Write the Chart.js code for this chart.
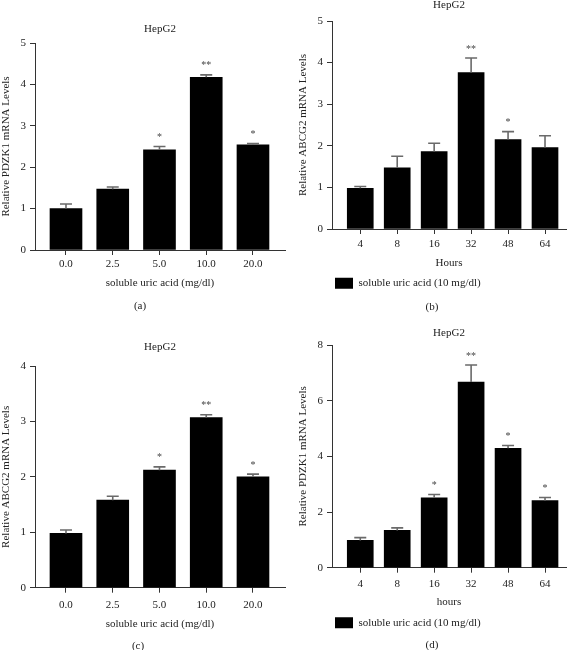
<!DOCTYPE html>
<html><head><meta charset="utf-8">
<script src="https://cdn.jsdelivr.net/npm/chart.js@4.4.1/dist/chart.umd.min.js"></script>
<style>
html,body{margin:0;padding:0;background:#fff;}
#wrap{position:relative;width:573px;height:650px;overflow:hidden;background:#fff;}
canvas{position:absolute;}
.lbl{position:absolute;font:11px 'Liberation Serif',serif;color:#222;transform:translate(-50%,-50%);white-space:nowrap;}
</style></head><body>
<div id="wrap">
<canvas id="ca" width="290" height="320" style="left:0;top:0;width:290px;height:320px"></canvas>
<canvas id="cb" width="288" height="320" style="left:285px;top:0;width:288px;height:320px"></canvas>
<canvas id="cc" width="290" height="330" style="left:0;top:320px;width:290px;height:330px"></canvas>
<canvas id="cd" width="288" height="330" style="left:285px;top:320px;width:288px;height:330px"></canvas>
<div class="lbl" style="left:140px;top:305px">(a)</div>
<div class="lbl" style="left:432px;top:305.5px">(b)</div>
<div class="lbl" style="left:138px;top:645px">(c)</div>
<div class="lbl" style="left:432px;top:644px">(d)</div>
</div>
<script>
// ---- data ----
const concLabels = ['0.0', '2.5', '5.0', '10.0', '20.0'];
const hourLabels = ['4', '8', '16', '32', '48', '64'];

const pdzk1Conc = [1.00, 1.47, 2.42, 4.17, 2.54];
const pdzk1ConcErr = [0.11, 0.05, 0.08, 0.06, 0.03];
const pdzk1ConcStars = ['', '', '*', '**', '*'];

const abcg2Hours = [0.98, 1.47, 1.86, 3.76, 2.15, 1.96];
const abcg2HoursErr = [0.04, 0.28, 0.20, 0.35, 0.19, 0.28];
const abcg2HoursStars = ['', '', '', '**', '*', ''];

const abcg2Conc = [0.98, 1.58, 2.12, 3.07, 2.00];
const abcg2ConcErr = [0.06, 0.07, 0.06, 0.05, 0.05];
const abcg2ConcStars = ['', '', '*', '**', '*'];

const pdzk1Hours = [0.98, 1.34, 2.51, 6.67, 4.29, 2.41];
const pdzk1HoursErr = [0.10, 0.09, 0.12, 0.61, 0.10, 0.11];
const pdzk1HoursStars = ['', '', '*', '**', '*', '*'];

const yTicks5 = [0, 1, 2, 3, 4, 5];
const yTicks4 = [0, 1, 2, 3, 4];
const yTicks8 = [0, 2, 4, 6, 8];

const seriesName = 'soluble uric acid (10 mg/dl)';
// ---------------

const FONT = "'Liberation Serif', 'Times New Roman', serif";
const AXIS = '#333';
const TXT = '#222';

const errorBars = {
  id: 'errorBars',
  afterDatasetsDraw(chart, args, opts) {
    const ctx = chart.ctx;
    const meta = chart.getDatasetMeta(0);
    const ys = chart.scales.y;
    const vals = opts.values, errs = opts.errors, stars = opts.stars;
    ctx.save();
    meta.data.forEach((bar, i) => {
      const top = ys.getPixelForValue(vals[i] + errs[i]);
      const base = bar.y;
      ctx.strokeStyle = '#6a6a6a';
      ctx.lineWidth = 1.6;
      ctx.beginPath();
      ctx.moveTo(bar.x, base);
      ctx.lineTo(bar.x, top);
      ctx.moveTo(bar.x - 6, top);
      ctx.lineTo(bar.x + 6, top);
      ctx.stroke();
      if (stars[i]) {
        ctx.fillStyle = '#444';
        ctx.font = '10px ' + FONT;
        ctx.textAlign = 'center';
        ctx.textBaseline = 'alphabetic';
        ctx.fillText(stars[i], bar.x, top - 6.5);
      }
    });
    ctx.restore();
  }
};

function makeChart(id, p) {
  const data = p.values.map((v, i) => ({x: i, y: v}));
  return new Chart(document.getElementById(id), {
    type: 'bar',
    data: {
      datasets: [{
        label: seriesName,
        data: data,
        backgroundColor: '#000',
        borderWidth: 0,
        barThickness: p.barW
      }]
    },
    options: {
      responsive: false,
      animation: false,
      events: [],
      layout: {padding: p.pad},
      plugins: {
        title: {
          display: true, text: 'HepG2', color: TXT, fullSize: false,
          font: {family: FONT, size: 11, weight: 'normal', lineHeight: 1},
          padding: p.titlePad
        },
        legend: {
          display: !!p.legend, position: 'bottom', align: 'start', fullSize: false,
          labels: {
            color: TXT, boxWidth: 18, boxHeight: 11, padding: 3,
            font: {family: FONT, size: 11}
          }
        },
        tooltip: {enabled: false},
        errorBars: {values: p.values, errors: p.errs, stars: p.stars}
      },
      scales: {
        x: {
          type: 'linear',
          offset: false,
          min: p.xMin, max: p.xMax,
          afterBuildTicks: s => { s.ticks = p.labels.map((_, i) => ({value: i})); },
          afterFit: s => { s.height = p.xH; },
          grid: {display: true, offset: false, drawOnChartArea: false, drawTicks: true, tickLength: 5, color: AXIS, lineWidth: 1},
          border: {display: true, color: AXIS, width: 1},
          ticks: {
            color: TXT, padding: p.xTickPad, autoSkip: false, maxRotation: 0,
            font: {family: FONT, size: 11},
            callback: v => p.labels[v]
          },
          title: {
            display: true, text: p.xTitle, color: TXT,
            font: {family: FONT, size: 11},
            padding: {top: 0, bottom: p.xTitlePadB}
          }
        },
        y: {
          type: 'linear',
          min: p.yTicks[0], max: p.yTicks[p.yTicks.length - 1],
          afterBuildTicks: s => { s.ticks = p.yTicks.map(v => ({value: v})); },
          afterFit: s => { s.width = p.yW; },
          grid: {display: true, drawOnChartArea: false, drawTicks: true, tickLength: 5, color: AXIS, lineWidth: 1},
          border: {display: true, color: AXIS, width: 1},
          ticks: {color: TXT, padding: 4, font: {family: FONT, size: 11}},
          title: {
            display: true, text: p.yTitle, color: TXT,
            font: {family: FONT, size: 11},
            padding: {top: p.yTitlePadT, bottom: 0}
          }
        }
      }
    },
    plugins: [errorBars]
  });
}

makeChart('ca', {
  labels: concLabels, values: pdzk1Conc, errs: pdzk1ConcErr, stars: pdzk1ConcStars,
  yTicks: yTicks5, yTitle: 'Relative PDZK1 mRNA Levels', xTitle: 'soluble uric acid (mg/dl)',
  legend: false, barW: 32, xMin: -0.663, xMax: 4.685,
  pad: {top: 0, right: 5, bottom: 30, left: 0}, titlePad: {top: 23.5, bottom: 8.5},
  yW: 35, yTitlePadT: 0, xH: 40, xTickPad: 3, xTitlePadB: 0
});
makeChart('cb', {
  labels: hourLabels, values: abcg2Hours, errs: abcg2HoursErr, stars: abcg2HoursStars,
  yTicks: yTicks5, yTitle: 'Relative ABCG2 mRNA Levels', xTitle: 'Hours',
  legend: true, barW: 26, xMin: -0.765, xMax: 5.568,
  pad: {top: 0, right: 7, bottom: 21.2, left: 0}, titlePad: {top: 0, bottom: 10},
  yW: 47, yTitlePadT: 12, xH: 45.8, xTickPad: 3.7, xTitlePadB: 5.5
});
makeChart('cc', {
  labels: concLabels, values: abcg2Conc, errs: abcg2ConcErr, stars: abcg2ConcStars,
  yTicks: yTicks4, yTitle: 'Relative ABCG2 mRNA Levels', xTitle: 'soluble uric acid (mg/dl)',
  legend: false, barW: 32, xMin: -0.663, xMax: 4.685,
  pad: {top: 0, right: 5, bottom: 19.4, left: 0}, titlePad: {top: 21.5, bottom: 13.5},
  yW: 35, yTitlePadT: 0, xH: 42.9, xTickPad: 5.5, xTitlePadB: 0
});
makeChart('cd', {
  labels: hourLabels, values: pdzk1Hours, errs: pdzk1HoursErr, stars: pdzk1HoursStars,
  yTicks: yTicks8, yTitle: 'Relative PDZK1 mRNA Levels', xTitle: 'hours',
  legend: true, barW: 26, xMin: -0.765, xMax: 5.568,
  pad: {top: 0, right: 7, bottom: 11.8, left: 0}, titlePad: {top: 7.5, bottom: 6.5},
  yW: 47, yTitlePadT: 12, xH: 46.5, xTickPad: 5, xTitlePadB: 5.9
});
</script>
</body></html>
